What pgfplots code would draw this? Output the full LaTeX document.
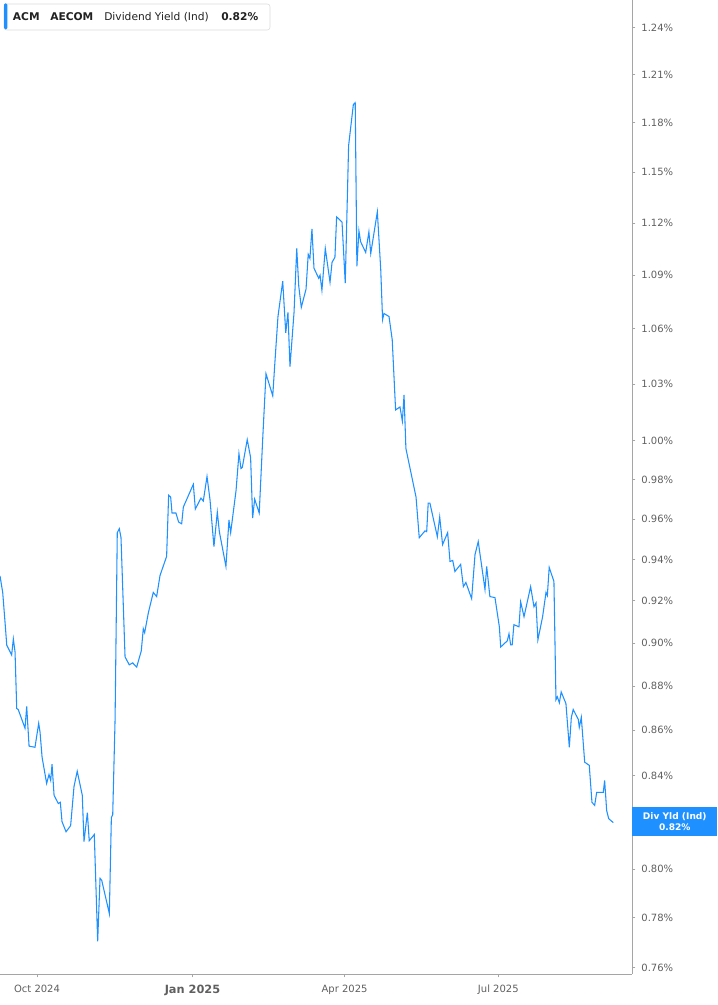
\documentclass[border=0pt]{standalone}
\usepackage{pgfplots}
\pgfplotsset{compat=1.18}
\usepackage{fontspec}
\setmainfont{DejaVu Sans}
\definecolor{lineblue}{RGB}{30,144,255}
\definecolor{tickgray}{RGB}{95,95,95}
\definecolor{axisgray}{RGB}{165,165,165}
\definecolor{headtext}{RGB}{34,34,34}
\begin{document}
\begin{tikzpicture}
% page size: 717 x 1005 px at 0.75pt per px
\path[use as bounding box] (0,-23.25pt) rectangle (537.75pt,730.5pt);
\begin{axis}[
    scale only axis,
    width=474pt, height=730.5pt,
    ymode=log,
    xmin=-21.9, xmax=352.1,
    ymin=0.7575, ymax=1.258,
    axis x line*=bottom,
    axis y line*=right,
    axis line style={axisgray, line width=0.75pt},
    tick style={axisgray, line width=0.6pt},
    tick align=outside,
    major tick length=2.5pt,
    minor tick num=0,
    xtick={0,92,182,273},
    xticklabels={Oct 2024,{\raisebox{-2pt}{\fontsize{8.5}{9}\selectfont\bfseries Jan 2025}},Apr 2025,Jul 2025},
    ytick={0.76,0.78,0.80,0.82,0.84,0.86,0.88,0.90,0.92,0.94,0.96,0.98,1.00,1.03,1.06,1.09,1.12,1.15,1.18,1.21,1.24},
    % the 0.82% tick sits under the last-value tag, so its label is left empty
    yticklabels={0.76\%,0.78\%,0.80\%,{},0.84\%,0.86\%,0.88\%,0.90\%,0.92\%,0.94\%,0.96\%,0.98\%,1.00\%,1.03\%,1.06\%,1.09\%,1.12\%,1.15\%,1.18\%,1.21\%,1.24\%},
    ticklabel style={font=\fontsize{7.5}{9}\selectfont, text=tickgray},
    yticklabel style={xshift=1pt},
    xticklabel style={yshift=-2pt},
    clip mode=individual,
]
\addplot[lineblue, line width=0.8pt] coordinates {
(-21.9,0.932) (-20.3,0.924) (-18.9,0.9095) (-17.9,0.899) (-15.0,0.8944) (-14.0,0.9019)
(-13.0,0.8958) (-12.0,0.8698) (-11.1,0.8693) (-7.1,0.8609) (-6.1,0.8707) (-4.7,0.8529)
(-1.2,0.8524) (1.0,0.8631) (1.8,0.8591) (3.0,0.848) (5.7,0.8365) (7.1,0.8404)
(8.1,0.8378) (8.9,0.8449) (10.1,0.8313) (12.6,0.8278) (13.8,0.8283) (14.8,0.82)
(17.2,0.8157) (19.9,0.8183) (21.9,0.8352) (23.8,0.8418) (26.8,0.8313) (27.8,0.8115)
(29.8,0.8239) (30.9,0.8119) (33.9,0.8145) (35.9,0.7706) (37.3,0.7963) (38.3,0.7954)
(42.8,0.7817) (44.0,0.8217) (44.8,0.823) (46.2,0.8649) (47.5,0.9532) (48.7,0.9552)
(49.7,0.9508) (52.1,0.8935) (54.6,0.8898) (56.6,0.8907) (59.0,0.8888) (61.7,0.8963)
(62.9,0.9067) (63.7,0.9048) (65.9,0.9143) (68.8,0.924) (70.8,0.922) (72.8,0.9322)
(76.7,0.9415) (77.9,0.972) (79.1,0.971) (79.9,0.963) (82.2,0.963) (83.8,0.9585)
(85.6,0.9576) (86.6,0.966) (92.5,0.9775) (93.7,0.965) (97.0,0.9705) (98.4,0.969)
(100.6,0.9815) (102.4,0.9695) (104.7,0.9463) (106.7,0.9635) (107.9,0.9537) (111.8,0.9366)
(113.6,0.9595) (114.6,0.9532) (117.8,0.9745) (119.5,0.9933) (120.7,0.9856) (121.5,0.9862)
(124.4,1.0005) (126.4,0.9913) (127.6,0.9605) (128.8,0.97) (131.5,0.963) (133.6,1.0016)
(135.5,1.0355) (139.5,1.0236) (140.8,1.042) (142.6,1.0668) (145.4,1.0866) (147.2,1.0578)
(148.5,1.0691) (149.7,1.0393) (152.1,1.0691) (153.7,1.1053) (154.9,1.0838) (156.4,1.0719)
(159.2,1.0821) (160.5,1.1019) (161.5,1.0996) (162.7,1.1166) (163.9,1.094) (166.7,1.0883)
(167.5,1.09) (168.6,1.0815) (170.6,1.1053) (173.4,1.086) (174.6,1.0974) (176.3,1.1002)
(177.3,1.1236) (180.5,1.1206) (182.4,1.0855) (184.4,1.1662) (187.2,1.1913) (188.3,1.1925)
(189.3,1.0951) (190.5,1.1155) (191.5,1.1092) (194.5,1.103) (196.4,1.1149) (197.5,1.1024)
(201.4,1.1266) (203.4,1.0934) (204.5,1.0651) (205.3,1.0685) (208.3,1.0668) (210.2,1.054)
(212.2,1.0161) (214.8,1.0177) (216.2,1.0102) (217.2,1.0241) (218.3,0.9959) (224.3,0.971)
(226.2,0.9507) (229.6,0.9541) (230.6,0.9537) (231.5,0.968) (232.5,0.968) (236.9,0.9512)
(238.3,0.961) (240.0,0.9473) (243.0,0.9532) (244.4,0.939) (246.0,0.9395) (247.3,0.9341)
(250.7,0.9376) (252.3,0.9268) (253.8,0.9288) (257.2,0.921) (259.2,0.9424) (261.1,0.9488)
(265.1,0.9254) (266.1,0.9366) (268.0,0.922) (271.0,0.9215) (273.6,0.9076) (274.4,0.8981)
(278.3,0.901) (279.3,0.9043) (280.3,0.8991) (281.2,0.8991) (282.2,0.9086) (285.2,0.9076)
(286.2,0.9195) (288.2,0.9124) (292.1,0.9268) (294.1,0.9171) (295.3,0.919) (296.4,0.9014)
(299.2,0.9124) (301.2,0.924) (302.0,0.9225) (303.1,0.9361) (305.9,0.9293) (307.1,0.8738)
(307.9,0.8751) (309.1,0.8724) (310.2,0.8773) (313.0,0.872) (315.0,0.8524) (316.2,0.8658)
(317.3,0.8693) (320.3,0.8649) (320.9,0.8613) (322.1,0.8658) (324.1,0.8458) (326.8,0.8444)
(328.4,0.8283) (330.0,0.827) (331.2,0.8326) (335.1,0.8326) (335.9,0.8378) (337.1,0.8248)
(338.3,0.8213) (341.0,0.8196)
};
% last value tag on the right axis
\node[fill=lineblue, text=white, minimum width=63.75pt, minimum height=21.75pt,
      inner sep=0pt, anchor=west, align=center,
      font=\fontsize{6.8}{8.25}\selectfont\bfseries]
  at ({rel axis cs:1,0}|-{axis cs:0,0.82}) {Div Yld (Ind)\\0.82\%};
% header box
\draw[axisgray!40, fill=white, rounded corners=2pt]
  ([xshift=3pt,yshift=-3pt]rel axis cs:0,1) rectangle ([xshift=202.5pt,yshift=-22.5pt]rel axis cs:0,1);
\fill[lineblue, rounded corners=1pt]
  ([xshift=3pt,yshift=-2.5pt]rel axis cs:0,1) rectangle ([xshift=5.5pt,yshift=-22pt]rel axis cs:0,1);
\begin{scope}[every node/.style={anchor=base west, inner sep=0pt, text=headtext, font=\fontsize{8}{9}\selectfont}]
\node at ([xshift=9.5pt,yshift=-15.75pt]rel axis cs:0,1) {\bfseries ACM};
\node at ([xshift=37.5pt,yshift=-15.75pt]rel axis cs:0,1) {\bfseries AECOM};
\node at ([xshift=78pt,yshift=-15.75pt]rel axis cs:0,1) {Dividend Yield (Ind)};
\node at ([xshift=165.75pt,yshift=-15.75pt]rel axis cs:0,1) {\bfseries 0.82\%};
\end{scope}
\end{axis}
\end{tikzpicture}
\end{document}
